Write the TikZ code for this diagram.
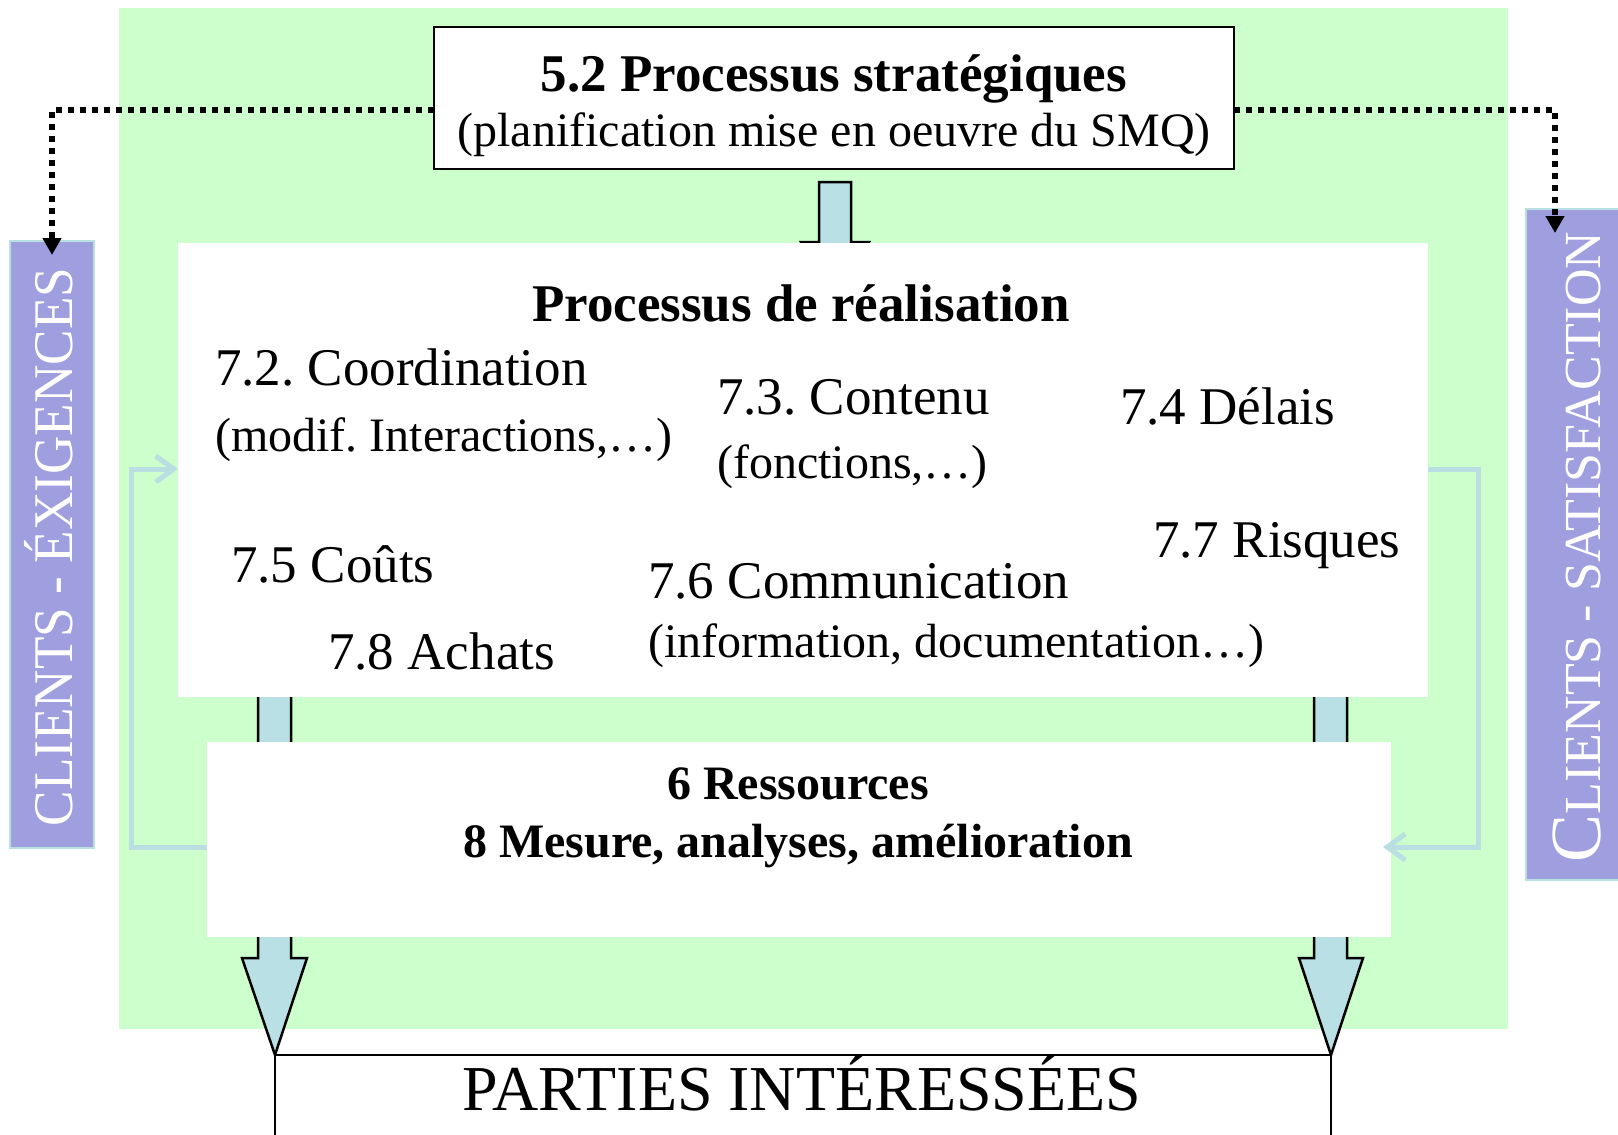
\documentclass[tikz,border=0pt]{standalone}
\usepackage{fontspec}
\setmainfont{Liberation Serif}
\usetikzlibrary{arrows.meta}
\definecolor{bggreen}{RGB}{204,255,204}
\definecolor{clientpurple}{RGB}{159,158,223}
\definecolor{arrowblue}{RGB}{185,224,228}
\definecolor{fbblue}{RGB}{185,223,227}
\newcommand\fsz[1]{\fontsize{#1}{#1}\selectfont}
\frenchspacing
\begin{document}
\begin{tikzpicture}[x=1pt,y=-1pt,
  box/.style={inner sep=0pt, outer sep=0pt, anchor=north west, fill=white},
  txt/.style={inner sep=0pt, anchor=base west, font=\fsz{53}},
  ctxt/.style={inner sep=0pt, anchor=base},
  blockarrow/.style={fill=arrowblue, draw=black, line width=2.5pt, line join=miter},
  fb/.style={draw=fbblue, line width=5pt, -{Straight Barb[length=18pt,width=26pt,line width=5pt]}},
  dotconn/.style={line width=6pt, dash pattern=on 6pt off 6pt, -{Triangle[width=18pt,length=17pt]}},
  vtxt/.style={inner sep=0pt, anchor=base, rotate=90, text=white}]
\useasboundingbox (0,0) rectangle (1618,1135);
% background
\node[box, fill=bggreen, minimum width=1389pt, minimum height=1021pt] (bg) at (119,8) {};
% block arrows
\coordinate (tipL) at (275,1055);
\coordinate (tipR) at (1331,1055);
\filldraw[blockarrow] (801,242) -- (819,242) -- (819,182) -- (851,182) -- (851,242) -- (869,242) -- (835,300) -- cycle;
\filldraw[blockarrow] (258,690) -- (258,958) -- (242,958) -- (tipL) -- (307,958) -- (291,958) -- (291,690);
\filldraw[blockarrow] (1314,690) -- (1314,958) -- (1299,958) -- (tipR) -- (1363,958) -- (1347,958) -- (1347,690);
% white boxes
\node[box, minimum width=1250pt, minimum height=454pt] (real) at (178,243) {};
\node[box, minimum width=1184pt, minimum height=195pt] (res) at (207,742) {};
% feedback loops
\draw[fb] (res.west |- 0,847) -- (131,847) -- (131,469) -- (real.west |- 0,469);
\draw[fb, shorten >=-8pt] (real.east |- 0,469) -- (1478,469) -- (1478,847) -- (res.east |- 0,847);
% strategic box
\node[box, draw=black, line width=2.5pt, minimum width=800pt, minimum height=142pt] (strat) at (434,27) {};
\node[ctxt, font=\fsz{53}\bfseries] (t52) at (834,91) {5.2 Processus stratégiques};
\node[ctxt, font=\fsz{48}] (t52b) at (834,146) {(planification mise en oeuvre du SMQ)};
% realisation texts
\node[ctxt, font=\fsz{53}\bfseries] (treal) at (801,321) {Processus de réalisation};
\node[txt] (t72) at (215,385) {7.2. Coordination};
\node[txt, font=\fsz{48}] (t72b) at (215,451) {(modif. Interactions,…)};
\node[txt] (t73) at (717,414) {7.3. Contenu};
\node[txt, font=\fsz{48}] (t73b) at (717,478) {(fonctions,…)};
\node[txt] (t74) at (1120,424) {7.4 Délais};
\node[txt] (t75) at (231,582) {7.5 Coûts};
\node[txt] (t77) at (1153,557) {7.7 Risques};
\node[txt] (t76) at (648,598) {7.6 Communication};
\node[txt, font=\fsz{48}] (t76b) at (648,657) {(information, documentation…)};
\node[txt] (t78) at (328,669) {7.8 Achats};
% resources texts
\node[ctxt, font=\fsz{48}\bfseries] (t6) at (798,799) {6 Ressources};
\node[ctxt, font=\fsz{48}\bfseries] (t8) at (798,857) {8 Mesure, analyses, amélioration};
% client bars
\node[box, fill=clientpurple, draw=fbblue, line width=2pt, minimum width=84pt, minimum height=607pt] (cl) at (10,241) {};
\node[box, fill=clientpurple, draw=fbblue, line width=2pt, minimum width=110pt, minimum height=671pt] (cr) at (1526,209) {};
\node[vtxt, font=\fsz{56}] (cltxt) at (72,547) {\scalebox{0.95}[1]{CLIENTS - ÉXIGENCES}};
\node[vtxt, font=\fsz{52}] (crtxt) at (1600,547) {{\fsz{72}C}LIENTS - SATISFACTION};
% dotted connectors
\coordinate (clin) at (52,255);
\coordinate (crin) at (1555,233);
\draw[dotconn] (strat.west |- 0,110) -| (clin);
\draw[dotconn] (strat.east |- 0,110) -| (crin);
% parties interessees
\draw[line width=2pt] (275,1135) |- (tipR) -- (1331,1135);
\node[ctxt, font=\fsz{64}] (parties) at (802,1110) {PARTIES INTÉRESSÉES};
\end{tikzpicture}
\end{document}
